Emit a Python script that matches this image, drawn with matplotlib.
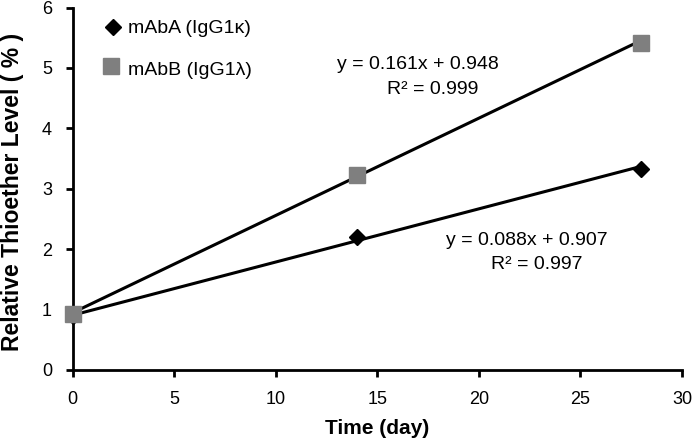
import numpy as np
import matplotlib
matplotlib.use("Agg")
import matplotlib.pyplot as plt

plt.rcParams['font.family'] = ['Liberation Sans', 'DejaVu Sans']

days = [0, 14, 28]
mAbA = [0.90, 2.20, 3.33]
mAbB = [0.92, 3.22, 5.42]
fitA = (0.088, 0.907)
fitB = (0.161, 0.948)

fig = plt.figure(figsize=(6.93, 4.42), dpi=100)
ax = fig.add_axes([0.105, 0.163, 0.879, 0.82])

xs = np.array([0, 28])
ax.plot(xs, fitA[0] * xs + fitA[1], color='black', lw=2.2, zorder=2)
ax.plot(xs, fitB[0] * xs + fitB[1], color='black', lw=2.2, zorder=2)
ax.plot(days, mAbA, linestyle='none', marker='D', ms=8, color='black', zorder=3, clip_on=False)
ax.plot(days, mAbB, linestyle='none', marker='s', ms=11, color='#7f7f7f', zorder=4, clip_on=False)

ax.set_xlim(0, 30)
ax.set_ylim(0, 6)
ax.set_xticks(range(0, 31, 5))
ax.set_yticks(range(0, 7))
for s in ['top', 'right']:
    ax.spines[s].set_visible(False)
for s in ['left', 'bottom']:
    ax.spines[s].set_linewidth(2)
ax.tick_params(width=2, length=5, labelsize=13, pad=10)

ax.set_xlabel('Time (day)', fontsize=15, fontweight='bold')
ax.set_ylabel('Relative Thioether Level ( % )', fontsize=16.5, fontweight='bold')
ax.xaxis.set_label_coords(0.5, -0.135)
ax.yaxis.set_label_coords(-0.08, 0.49)

# legend
ax.plot([1.97], [5.67], marker='D', ms=8, color='black', clip_on=False)
ax.plot([1.9], [5.03], marker='s', ms=11, color='#7f7f7f', clip_on=False)
ax.text(2.7, 5.66, 'mAbA (IgG1κ)', fontsize=14, va='center')
ax.text(2.7, 4.96, 'mAbB (IgG1λ)', fontsize=14, va='center')

ax.text(13.0, 5.05, 'y = 0.161x + 0.948', fontsize=14, va='center')
ax.text(15.5, 4.64, 'R² = 0.999', fontsize=14, va='center')
ax.text(18.4, 2.15, 'y = 0.088x + 0.907', fontsize=14, va='center')
ax.text(20.6, 1.74, 'R² = 0.997', fontsize=14, va='center')

fig.savefig('out.png', dpi=100)
